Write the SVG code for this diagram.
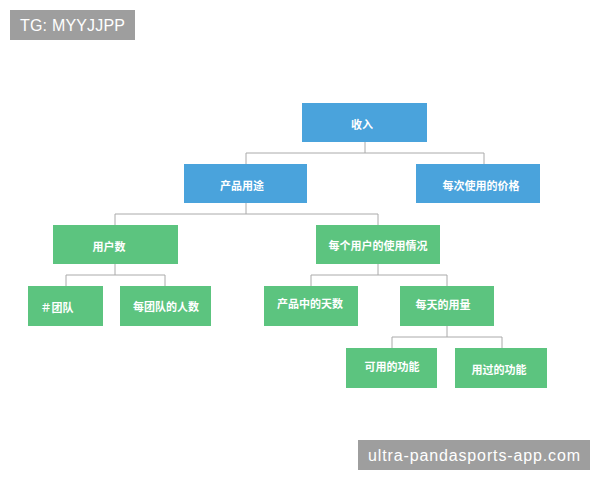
<svg xmlns="http://www.w3.org/2000/svg" width="600" height="480" viewBox="0 0 600 480">
<style>
.b{fill:#4aa3dc}.g{fill:#5cc47f}
.t{font-family:"Noto Sans CJK SC",sans-serif;font-size:11px;fill:#fff;text-anchor:middle;dominant-baseline:central;font-weight:bold}
.c{fill:none;stroke:#aaa;stroke-width:1}
.w{font-family:"Liberation Sans",sans-serif;font-size:16px;fill:#fff}
</style>
<rect width="600" height="480" fill="#fff"/>
<g id="connectors" class="c">
<path d="M365 142V153M246 164V153H484V164"/>
<path d="M246 203V214M115 225V214H378V225"/>
<path d="M115 264V275M66 286V275H165V286"/>
<path d="M378 264V275M311 286V275H447V286"/>
<path d="M447 326V337M392 348V337H502V348"/>
</g>
<g id="n1"><rect class="b" x="302" y="103" width="125" height="39"/><text class="t" x="362" y="124">收入</text></g>
<g id="n2"><rect class="b" x="184" y="164" width="123" height="39"/><text class="t" x="242" y="185">产品用途</text></g>
<g id="n3"><rect class="b" x="416" y="164" width="124" height="39"/><text class="t" x="481" y="185">每次使用的价格</text></g>
<g id="n4"><rect class="g" x="53" y="225" width="125" height="39"/><text class="t" x="109" y="246">用户数</text></g>
<g id="n5"><rect class="g" x="316" y="225" width="124" height="39"/><text class="t" x="378" y="245">每个用户的使用情况</text></g>
<g id="n6"><rect class="g" x="28" y="286" width="75" height="40"/><text class="t" x="57" y="307">＃团队</text></g>
<g id="n7"><rect class="g" x="120" y="286" width="91" height="40"/><text class="t" x="166" y="306">每团队的人数</text></g>
<g id="n8"><rect class="g" x="264" y="286" width="94" height="40"/><text class="t" x="310" y="303">产品中的天数</text></g>
<g id="n9"><rect class="g" x="400" y="286" width="94" height="40"/><text class="t" x="443" y="304">每天的用量</text></g>
<g id="n10"><rect class="g" x="346" y="348" width="91" height="40"/><text class="t" x="392" y="366">可用的功能</text></g>
<g id="n11"><rect class="g" x="455" y="348" width="92" height="40"/><text class="t" x="499" y="369">用过的功能</text></g>
<rect x="10" y="10" width="125" height="30" fill="#9e9e9e"/>
<text class="w" x="20" y="31" textLength="105">TG: MYYJJPP</text>
<rect x="358" y="440" width="232" height="30" fill="#9e9e9e"/>
<text class="w" x="368" y="461" textLength="212">ultra-pandasports-app.com</text>
</svg>
